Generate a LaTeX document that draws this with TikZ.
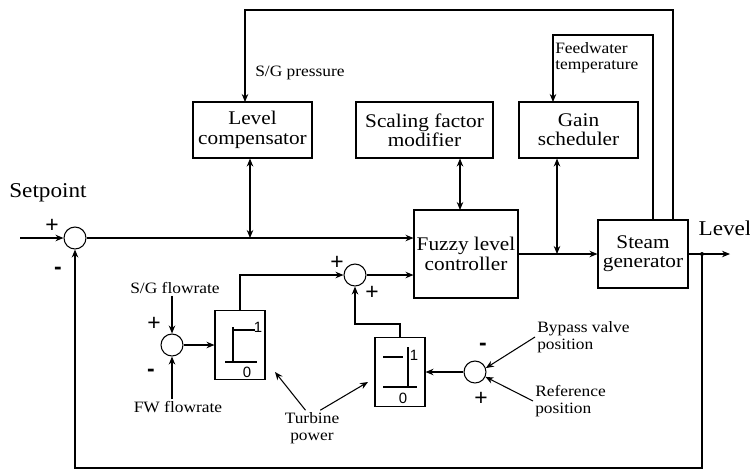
\documentclass[tikz,border=0pt]{standalone}
\usepackage{fontspec}
\setmainfont[FakeStretch=1.1]{Liberation Serif}
\setsansfont{Liberation Sans}
\usetikzlibrary{positioning, arrows.meta}

\begin{document}
\begin{tikzpicture}[
    x=0.02cm, y=-0.02cm,
    line width=0.6pt,
    block/.style={rectangle, draw, align=center, inner sep=0pt, font=\fontsize{11}{11}\selectfont},
    limiter/.style={rectangle, draw, minimum width=1cm, minimum height=1.38cm},
    sumj/.style={circle, draw, minimum size=0.44cm, inner sep=0pt},
    lbl/.style={align=left, inner sep=1pt, font=\fontsize{9}{9.5}\selectfont},
    sgn/.style={inner sep=0pt, font=\sffamily\fontsize{13}{13}\selectfont},
    tiny/.style={inner sep=0pt, font=\sffamily\fontsize{8.5}{8.5}\selectfont},
    arrow/.style={-{Stealth[length=1.6mm, width=1.3mm]}},
    dbl/.style={{Stealth[length=1.6mm, width=1.3mm]}-{Stealth[length=1.6mm, width=1.3mm]}}
]
    \useasboundingbox (0,0) rectangle (750,471);

    % Upper blocks
    \node[block, minimum width=2.38cm, minimum height=1.12cm] (lc) at (252.5,130) {Level\\compensator};
    \node[block, minimum width=2.74cm, minimum height=1.12cm] (sfm) at (424.5,130) {Scaling factor\\modifier};
    \node[block, minimum width=2.38cm, minimum height=1.12cm] (gs) at (578.5,130) {Gain\\scheduler};

    % Controller and plant
    \node[block, minimum width=2.08cm, minimum height=1.76cm] (flc) at (466,254) {Fuzzy level\\controller};
    \node[block, minimum width=1.8cm, minimum height=1.36cm] (sg) at (643,254) {Steam\\generator};

    % Summing junctions
    \node[sumj] (s1) at (75,238) {};
    \node[sumj] (s2) at (355,275) {};
    \node[sumj] (s3) at (172,345) {};
    \node[sumj] (s4) at (475,372) {};

    % Limiters
    \node[limiter] (lim1) at (240,345) {};
    \node[limiter] (lim2) at (400,372) {};

    % Labels
    \node[font=\fontsize{12}{12}\selectfont] (sp) at (48,193) {Setpoint};
    \node[font=\fontsize{12}{12}\selectfont] (lvl) at (725,228) {Level};
    \node[lbl, anchor=west] (sgpr) at (253,73) {S/G pressure};
    \node[lbl, anchor=north west] (fwt) at (553,40) {Feedwater\\temperature};
    \node[lbl] (sgf) at (175,288) {S/G flowrate};
    \node[lbl] (fwf) at (178,407) {FW flowrate};
    \node[lbl, align=center] (tp) at (312,428) {Turbine\\power};
    \node[lbl, anchor=west] (bvp) at (535,337) {Bypass valve\\position};
    \node[lbl, anchor=west] (rfp) at (533,401) {Reference\\position};

    % Signs
    \node[sgn] at (52,226) {+};
    \node[sgn] at (58,271) {\textbf{-}};
    \node[sgn] at (337,263) {+};
    \node[sgn] at (372,293) {+};
    \node[sgn] at (154,324) {+};
    \node[sgn] at (151,373) {\textbf{-}};
    \node[sgn] at (483,347) {\textbf{-}};
    \node[sgn] at (481,399) {+};

    % Limiter symbols
    \draw ([shift={(-7,-18)}]lim1.center) -- ([shift={(-7,17)}]lim1.center);
    \draw ([shift={(-7,-15)}]lim1.center) -- ([shift={(15,-15)}]lim1.center);
    \draw ([shift={(-15,17)}]lim1.center) -- ([shift={(17,17)}]lim1.center);
    \node[tiny] at ([shift={(18,-18)}]lim1.center) {1};
    \node[tiny] at ([shift={(7,27)}]lim1.center) {0};
    \draw ([shift={(8,-25)}]lim2.center) -- ([shift={(8,15)}]lim2.center);
    \draw ([shift={(-17,-15)}]lim2.center) -- ([shift={(3,-15)}]lim2.center);
    \draw ([shift={(-17,15)}]lim2.center) -- ([shift={(17,15)}]lim2.center);
    \node[tiny] at ([shift={(14,-17)}]lim2.center) {1};
    \node[tiny] at ([shift={(3,26)}]lim2.center) {0};

    % Coordinates
    \coordinate (spin) at (20,238);
    \coordinate (lcj) at (250,238);
    \coordinate (sfmj) at (460,210);
    \coordinate (gsj) at (557,254);
    \coordinate (tap) at (702,254);
    \coordinate (lvlend) at (730,254);
    \coordinate (fbr) at (702,468);
    \coordinate (sgp) at (673,220);
    \coordinate (sgt) at (653,220);
    \coordinate (lcin) at (245,102);
    \coordinate (gsin) at (553,102);

    % Main loop
    \draw[arrow] (spin) -- (s1);
    \draw[arrow] (s1) -- (flc.west |- s1);
    \draw[dbl] (lc.south -| lcj) -- (lcj);
    \draw[dbl] (sfm.south -| sfmj) -- (sfmj);
    \draw[arrow] (flc) -- (sg);
    \draw[dbl] (gs.south -| gsj) -- (gsj);
    \draw (sg.east |- tap) -- (tap);
    \draw[arrow] (tap) -- (lvlend);
    \fill (tap) circle (2);
    \draw[arrow] (tap) -- (fbr) -| (s1);

    % Measurements
    \draw[arrow] (sgp) -- ++(0,-210) -| (lcin);
    \draw[arrow] (sgt) -- ++(0,-185) -| (gsin);

    % Flow mismatch
    \draw[arrow] (sgf.south -| s3) -- (s3);
    \draw[arrow] (fwf.north -| s3) -- (s3);
    \draw[arrow] (s3) -- (lim1);
    \draw[arrow] (lim1.north) |- (s2);

    % Bypass valve
    \draw[arrow] (bvp.west) -- (s4.20);
    \draw[arrow] (rfp.west) -- (s4.-25);
    \draw[arrow] (s4) -- (lim2);
    \draw[arrow] (lim2.north) -- ++(0,-13) -| (s2);
    \draw[arrow] (s2) -- (flc.west |- s2);

    % Turbine power
    \coordinate (tp1) at (275,372);
    \coordinate (tp2) at (368,382);
    \draw[arrow] (tp.110) -- (tp1);
    \draw[arrow] (tp.65) -- (tp2);
\end{tikzpicture}
\end{document}
